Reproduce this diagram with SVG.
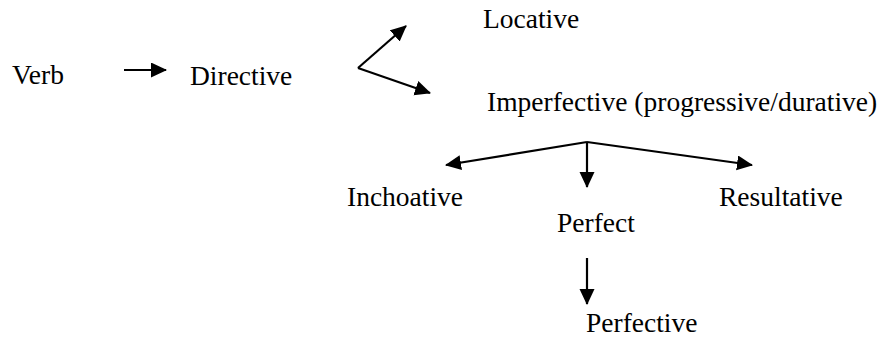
<svg xmlns="http://www.w3.org/2000/svg" width="888" height="338" viewBox="0 0 888 338">
<style>
.t{font-family:'Liberation Serif','Times New Roman',Times,serif;font-size:27.5px;fill:#000}
.c{stroke:#000;stroke-width:2.2;fill:none;marker-end:url(#ah)}
</style>
<defs>
<marker id="ah" markerUnits="userSpaceOnUse" markerWidth="17" markerHeight="16" refX="15" refY="7.5" orient="auto" viewBox="0 0 17 16">
<path d="M0,0 L16,7.5 L0,15 z" fill="#000"/>
</marker>
</defs>
<rect width="888" height="338" fill="#fff"/>
<g id="connectors">
<path class="c" d="M124,70 L166,70"/>
<path class="c" d="M358,68 L406,26"/>
<path class="c" d="M358,68 L430,93"/>
<path class="c" d="M587,142 L446,165"/>
<path class="c" d="M587,142 L587,187"/>
<path class="c" d="M587,142 L752,165"/>
<path class="c" d="M587,258 L587,304"/>
</g>
<g font-family="Liberation Serif, serif">
<g id="verb"><text class="t" x="12" y="84">Verb</text></g>
<g id="directive"><text class="t" x="190" y="85">Directive</text></g>
<g id="locative"><text class="t" x="483" y="28">Locative</text></g>
<g id="imperfective"><text class="t" x="487" y="111">Imperfective (progressive/durative)</text></g>
<g id="inchoative"><text class="t" x="347" y="206">Inchoative</text></g>
<g id="perfect"><text class="t" x="557" y="232">Perfect</text></g>
<g id="resultative"><text class="t" x="719" y="206">Resultative</text></g>
<g id="perfective"><text class="t" x="586" y="332">Perfective</text></g>
</g>
</svg>
